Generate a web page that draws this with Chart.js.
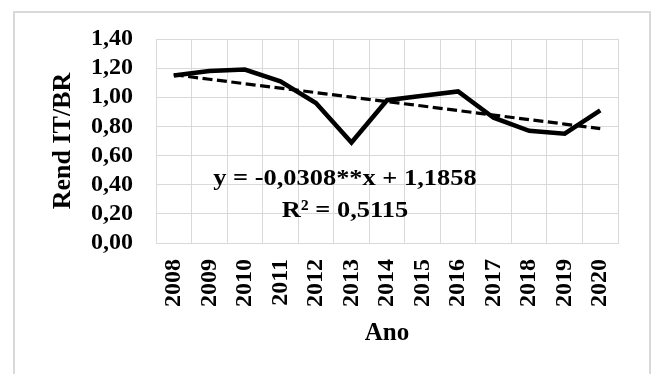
<!DOCTYPE html>
<html>
<head>
<meta charset="utf-8">
<script src="https://cdn.jsdelivr.net/npm/chart.js@4"></script>
<style>
  html, body { margin: 0; padding: 0; background: #fff; }
  #wrap { position: relative; width: 654px; height: 374px; overflow: hidden; }
  #frame { position: absolute; left: 13px; top: 11px; width: 634px; height: 420px;
           border: 2px solid #d9d9d9; pointer-events: none; }
  canvas { position: absolute; left: 0; top: 0; }
</style>
</head>
<body>
<div id="wrap">
  <canvas id="chartRend" width="654" height="374"></canvas>
  <div id="frame"></div>
</div>
<script>
// values
var years = ['2008', '2009', '2010', '2011', '2012', '2013', '2014', '2015', '2016', '2017', '2018', '2019', '2020'];
var rend = [1.15, 1.18, 1.19, 1.11, 0.96, 0.69, 0.98, 1.01, 1.04, 0.86, 0.77, 0.75, 0.91];
var trend = [1.155, 1.124, 1.093, 1.063, 1.032, 1.001, 0.970, 0.940, 0.909, 0.878, 0.847, 0.816, 0.785];
var equationLines = ['y = -0,0308**x + 1,1858', 'R² = 0,5115'];

(function () {
  'use strict';
  var fontFam = '"Liberation Serif", "Times New Roman", serif';
  var gridColor = '#d9d9d9';

  // draws the regression equation over the plot
  var equationPlugin = {
    id: 'equation',
    afterDatasetsDraw: function (chart) {
      var ctx = chart.ctx, area = chart.chartArea;
      var cx = area.left + (area.right - area.left) * 0.409;
      var base1 = area.top + (area.bottom - area.top) * 0.716;
      var base2 = area.top + (area.bottom - area.top) * 0.871;
      ctx.save();
      ctx.fillStyle = '#000';
      ctx.font = 'bold 24px ' + fontFam;
      ctx.textAlign = 'center';
      ctx.textBaseline = 'alphabetic';
      ctx.translate(cx, 0);
      ctx.scale(1.1, 1);
      ctx.fillText(equationLines[0], 0, base1);
      ctx.fillText(equationLines[1], 0, base2);
      ctx.restore();
    }
  };

  var chartRend = new Chart(document.getElementById('chartRend'), {
    type: 'line',
    data: {
      labels: years,
      datasets: [{
        label: 'Rend IT/BR',
        data: rend,
        borderColor: '#000',
        borderWidth: 4.5,
        pointRadius: 0,
        tension: 0,
        fill: false
      }, {
        label: 'Linear',
        data: trend,
        borderColor: '#000',
        borderWidth: 3.2,
        borderDash: [10, 4.5],
        pointRadius: 0,
        tension: 0,
        fill: false
      }]
    },
    options: {
      responsive: false,
      animation: false,
      layout: { padding: { left: 48, top: 39, right: 36, bottom: 0 } },
      plugins: { legend: { display: false }, tooltip: { enabled: false } },
      scales: {
        x: {
          offset: true,
          grid: { offset: true, color: gridColor, drawTicks: false },
          border: { color: gridColor },
          ticks: {
            color: '#000', padding: 16, minRotation: 90, maxRotation: 90, autoSkip: false,
            font: { family: fontFam, size: 24, weight: 'bold' }
          },
          title: {
            display: true, text: 'Ano', color: '#000',
            padding: { top: 0, bottom: 25 },
            font: { family: fontFam, size: 25, weight: 'bold' }
          },
          afterFit: function (scale) { scale.height = 131; }
        },
        y: {
          min: 0, max: 1.4,
          grid: { color: gridColor, drawTicks: false },
          border: { color: gridColor },
          ticks: {
            color: '#000', padding: 23, stepSize: 0.2, autoSkip: false,
            font: { family: fontFam, size: 24, weight: 'bold' },
            callback: function (v) { return v.toFixed(2).replace('.', ','); }
          },
          title: {
            display: true, text: 'Rend IT/BR', color: '#000',
            padding: { top: 0, bottom: 0 },
            font: { family: fontFam, size: 26, weight: 'bold' }
          },
          afterFit: function (scale) { scale.width = 108; }
        }
      }
    },
    plugins: [equationPlugin]
  });

  chartRend.update();
})();
</script>
</body>
</html>
